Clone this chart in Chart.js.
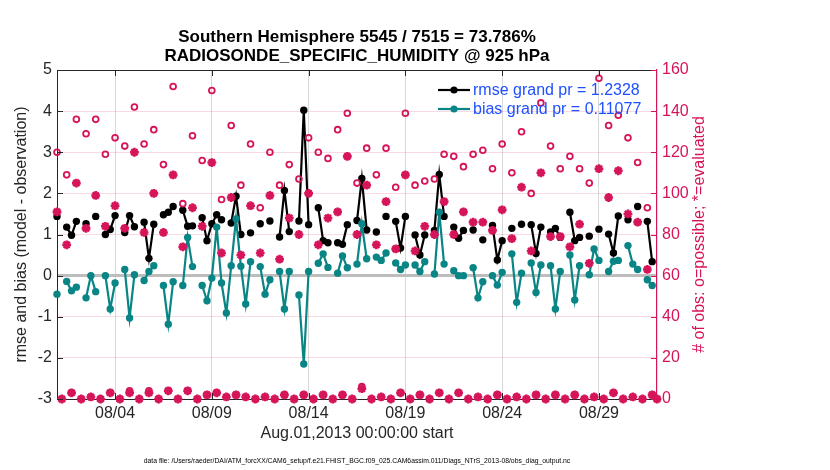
<!DOCTYPE html>
<html>
<head>
<meta charset="utf-8">
<script src="https://cdn.jsdelivr.net/npm/chart.js@4.4.1/dist/chart.umd.min.js"></script>
<style>
  html, body { margin: 0; padding: 0; background: #fff; }
  canvas { display: block; }
</style>
</head>
<body>
<canvas id="myChart" width="830" height="470"></canvas>
<script>
// 6-hourly bins from Aug.01 2013 00Z, x in days
const rmse = [
  1.44, null, 1.18, 0.98, 1.32, null, 1.26, null, 1.44, null,
  1.00, 1.12, 1.46, null, 1.05, 1.46, 1.19, null, 1.30, 0.42,
  1.25, null, 1.48, 1.54, 1.68, null, 1.59, 1.20, 1.21, null,
  1.41, 0.85, 1.26, 1.48, 1.36, null, 1.28, 1.93, 1.00, null,
  1.04, null, 1.26, null, 1.33, null, 0.94, 2.07, 1.07, null,
  1.33, 4.02, 1.24, null, 1.65, 0.85, 0.80, null, 0.80, 0.76,
  1.24, null, 1.34, 2.36, 1.11, null, 1.06, null, 1.44, null,
  1.32, 0.67, 1.44, null, 0.99, 0.50, 0.99, null, 1.10, 2.46,
  1.44, null, 1.18, 0.91, 1.10, null, 1.11, null, 0.87, null,
  1.22, 0.38, 0.85, null, 1.15, null, 1.25, null, 1.24, 0.54,
  1.18, null, 1.06, 1.15, 0.93, null, 1.54, 0.85, 0.93, null,
  0.96, null, 1.13, null, 1.01, 0.55, 1.45, null, 1.36, null,
  1.68, null, 1.32, 0.34, null
];
const bias = [
  -0.45, null, -0.14, -0.37, -0.28, null, -0.54, 0.00, -0.39, null,
  0.00, -0.81, -0.18, null, 0.15, -1.03, 0.02, null, -0.12, 0.10,
  0.24, null, -0.24, -1.18, -0.15, null, -0.24, 0.93, 0.22, null,
  -0.24, -0.61, -0.06, 1.18, -0.18, -0.91, 0.24, 1.38, 0.23, -0.69,
  0.34, null, 0.22, -0.45, -0.10, null, 0.10, -0.81, 0.10, null,
  -0.47, -2.15, 0.10, null, 0.30, 0.53, 0.20, null, 0.06, 0.48,
  0.19, null, 0.28, 1.26, 0.41, null, 0.45, 0.37, 0.55, null,
  0.31, 0.15, 0.26, null, 0.26, 0.10, 0.34, null, 0.04, 1.54,
  0.28, null, 0.12, 0.00, 0.00, null, 0.19, -0.54, -0.15, null,
  0.00, -0.23, 0.08, null, 0.53, -0.65, 0.06, null, 0.31, -0.41,
  0.26, null, 0.24, -0.81, 0.10, null, 0.50, -0.59, 0.24, null,
  0.02, 0.65, 0.37, null, 0.10, 0.35, 0.37, null, 0.73, 0.28,
  0.15, null, -0.10, -0.24, null
];
const possible = [
  120, 0, 109, 3, 136, 0, 129, 1, 136, 0,
  119, 3, 127, 0, 123, 4, 142, 0, 124, 4,
  131, 0, 114, 4, 152, 0, 95, 4, 128, 0,
  116, 2, 150, 3, 97, 1, 133, 2, 104, 1,
  124, 0, 93, 1, 120, 0, 104, 2, 114, 0,
  107, 2, 127, 0, 120, 2, 117, 0, 131, 2,
  139, 0, 105, 6, 122, 0, 109, 1, 122, 0,
  103, 3, 139, 0, 104, 2, 106, 0, 107, 3,
  119, 0, 118, 3, 113, 0, 119, 1, 121, 0,
  112, 2, 124, 0, 110, 1, 130, 0, 100, 2,
  144, 0, 123, 2, 112, 0, 118, 2, 112, 0,
  105, 1, 156, 0, 133, 3, 138, 0, 127, 1,
  115, 0, 93, 2, 0
];
const evaluated = [
  91, 0, 75, 3, 105, 0, 83, 1, 99, 0,
  84, 3, 94, 0, 83, 3, 120, 0, 81, 3,
  100, 0, 81, 4, 109, 0, 74, 4, 93, 0,
  84, 2, 115, 3, 71, 1, 98, 2, 70, 1,
  94, 0, 71, 1, 99, 0, 68, 2, 88, 0,
  80, 2, 100, 0, 75, 2, 88, 0, 91, 2,
  118, 0, 80, 5, 104, 0, 75, 1, 96, 0,
  73, 3, 109, 0, 72, 2, 84, 0, 80, 3,
  96, 0, 80, 3, 91, 0, 86, 1, 86, 0,
  82, 2, 92, 0, 78, 1, 103, 0, 72, 2,
  110, 0, 79, 2, 79, 0, 74, 2, 85, 0,
  66, 1, 112, 0, 98, 3, 111, 0, 90, 1,
  86, 0, 63, 2, 0
];
const xTickPos = [3, 8, 13, 18, 23, 28];
const xTickLabels = ['08/04', '08/09', '08/14', '08/19', '08/24', '08/29'];
const titleLines = ['Southern Hemisphere 5545 / 7515 = 73.786%', 'RADIOSONDE_SPECIFIC_HUMIDITY @ 925 hPa'];
const legendLabels = ['rmse grand pr = 1.2328', 'bias grand pr = 0.11077'];
const xTitle = 'Aug.01,2013 00:00:00 start';
const yTitle = 'rmse and bias (model - observation)';
const y2Title = '# of obs: o=possible; *=evaluated';
const footer = 'data file: /Users/raeder/DAI/ATM_forcXX/CAM6_setup/f.e21.FHIST_BGC.f09_025.CAM6assim.011/Diags_NTrS_2013-08/obs_diag_output.nc';

const FONT = '"Liberation Sans", Arial, Helvetica, sans-serif';
const crimson = '#d6145a';
const teal = '#0a8585';
const ink = '#262626';
const legendBlue = '#1f50ff';

const times = rmse.map((_, i) => i * 0.25);
const pts = arr => arr.map((v, i) => ({ x: times[i], y: v }));

const extras = {
    id: 'extras',
    afterDraw(chart) {
        const { ctx, chartArea: a, scales } = chart;
        ctx.save();
        // top border
        ctx.strokeStyle = ink;
        ctx.lineWidth = 1;
        ctx.beginPath();
        ctx.moveTo(a.left, a.top + 0.5);
        ctx.lineTo(a.right, a.top + 0.5);
        ctx.stroke();
        // inward tick marks
        const tl = 6;
        ctx.beginPath();
        xTickPos.forEach(v => {
            const px = Math.round(scales.x.getPixelForValue(v)) + 0.5;
            ctx.moveTo(px, a.bottom); ctx.lineTo(px, a.bottom - tl);
            ctx.moveTo(px, a.top); ctx.lineTo(px, a.top + tl);
        });
        for (let v = -3; v <= 5; v++) {
            const py = Math.round(scales.y.getPixelForValue(v)) + 0.5;
            ctx.moveTo(a.left, py); ctx.lineTo(a.left + tl, py);
        }
        ctx.stroke();
        ctx.strokeStyle = crimson;
        ctx.beginPath();
        for (let v = 0; v <= 160; v += 20) {
            const py = Math.round(scales.y2.getPixelForValue(v)) + 0.5;
            ctx.moveTo(a.right, py); ctx.lineTo(a.right - tl, py);
        }
        ctx.stroke();

        // title
        const cx = (a.left + a.right) / 2;
        ctx.fillStyle = '#000';
        ctx.textAlign = 'center';
        ctx.textBaseline = 'middle';
        ctx.font = 'bold 17px ' + FONT;
        ctx.fillText(titleLines[0], cx, 37);
        ctx.fillText(titleLines[1], cx, 56);

        // legend
        const rows = [{ c: '#000', y: 90 }, { c: teal, y: 109 }];
        rows.forEach((r, k) => {
            ctx.strokeStyle = r.c;
            ctx.fillStyle = r.c;
            ctx.lineWidth = 2.2;
            ctx.beginPath();
            ctx.moveTo(438, r.y); ctx.lineTo(470, r.y);
            ctx.stroke();
            ctx.beginPath();
            ctx.arc(454, r.y, 3.6, 0, Math.PI * 2);
            ctx.fill();
            ctx.fillStyle = legendBlue;
            ctx.textAlign = 'left';
            ctx.font = '16px ' + FONT;
            ctx.fillText(legendLabels[k], 473, r.y + 1);
        });

        // right axis title, reading bottom to top
        ctx.save();
        ctx.translate(700, (a.top + a.bottom) / 2);
        ctx.rotate(-Math.PI / 2);
        ctx.fillStyle = crimson;
        ctx.textAlign = 'center';
        ctx.font = '16px ' + FONT;
        ctx.fillText(y2Title, 0, 0);
        ctx.restore();

        // footer
        ctx.fillStyle = '#000';
        ctx.textAlign = 'center';
        ctx.font = '6.8px ' + FONT;
        ctx.fillText(footer, cx, 461);
        ctx.restore();
    }
};

const ctx = document.getElementById('myChart').getContext('2d');
const myChart = new Chart(ctx, {
    type: 'line',
    data: {
        datasets: [
            {
                label: 'possible',
                data: pts(possible),
                yAxisID: 'y2',
                showLine: false,
                pointStyle: 'circle',
                pointRadius: 2.9,
                pointBorderWidth: 1.8,
                pointBorderColor: crimson,
                pointBackgroundColor: 'rgba(0,0,0,0)',
                clip: false,
                order: 1
            },
            {
                label: 'evaluated',
                data: pts(evaluated),
                yAxisID: 'y2',
                showLine: false,
                pointStyle: 'star',
                pointRadius: 4.4,
                pointBorderWidth: 2.6,
                pointBorderColor: crimson,
                pointBackgroundColor: crimson,
                clip: false,
                order: 0
            },
            {
                label: 'rmse',
                data: pts(rmse),
                yAxisID: 'y',
                borderColor: '#000',
                backgroundColor: '#000',
                borderWidth: 2.2,
                pointRadius: 3.7,
                pointBorderWidth: 0,
                spanGaps: false,
                clip: false,
                order: 3
            },
            {
                label: 'bias',
                data: pts(bias),
                yAxisID: 'y',
                borderColor: teal,
                backgroundColor: teal,
                borderWidth: 2.2,
                pointRadius: 3.7,
                pointBorderWidth: 0,
                spanGaps: false,
                clip: false,
                order: 2
            }
        ]
    },
    options: {
        responsive: false,
        animation: false,
        events: [],
        layout: { padding: { top: 70, right: 0, bottom: 0, left: 0 } },
        plugins: {
            legend: { display: false },
            title: { display: false },
            tooltip: { enabled: false }
        },
        scales: {
            x: {
                type: 'linear',
                min: 0,
                max: 31,
                afterBuildTicks: s => { s.ticks = xTickPos.map(v => ({ value: v })); },
                afterFit: s => { s.height = 71; },
                ticks: {
                    callback: (v, i) => xTickLabels[i],
                    autoSkip: false,
                    maxRotation: 0,
                    padding: 5,
                    color: ink,
                    font: { family: FONT, size: 16 }
                },
                grid: { color: '#d9d9d9', lineWidth: 1, drawTicks: false },
                border: { color: ink, width: 1 },
                title: {
                    display: true,
                    text: xTitle,
                    color: ink,
                    font: { family: FONT, size: 16 },
                    padding: { top: 0, bottom: 27 }
                }
            },
            y: {
                position: 'left',
                min: -3,
                max: 5,
                afterFit: s => { s.width = 57; },
                ticks: {
                    stepSize: 1,
                    padding: 5,
                    color: ink,
                    font: { family: FONT, size: 16 }
                },
                grid: {
                    drawTicks: false,
                    color: c => c.tick && c.tick.value === 0 ? '#bdbdbd' : 'rgba(0,0,0,0)',
                    lineWidth: c => c.tick && c.tick.value === 0 ? 3 : 0
                },
                border: { color: ink, width: 1 },
                title: {
                    display: true,
                    text: yTitle,
                    color: ink,
                    font: { family: FONT, size: 16 },
                    padding: { top: 12, bottom: 0 }
                }
            },
            y2: {
                position: 'right',
                min: 0,
                max: 160,
                afterFit: s => { s.width = 173; },
                ticks: {
                    stepSize: 20,
                    padding: 5,
                    color: crimson,
                    font: { family: FONT, size: 16 }
                },
                grid: {
                    drawTicks: false,
                    color: c => (c.tick && [0, 60, 160].includes(c.tick.value)) ? 'rgba(0,0,0,0)' : 'rgba(214,20,90,0.16)',
                    lineWidth: 1
                },
                border: { color: crimson, width: 1.2 }
            }
        }
    },
    plugins: [extras]
});
</script>
</body>
</html>
